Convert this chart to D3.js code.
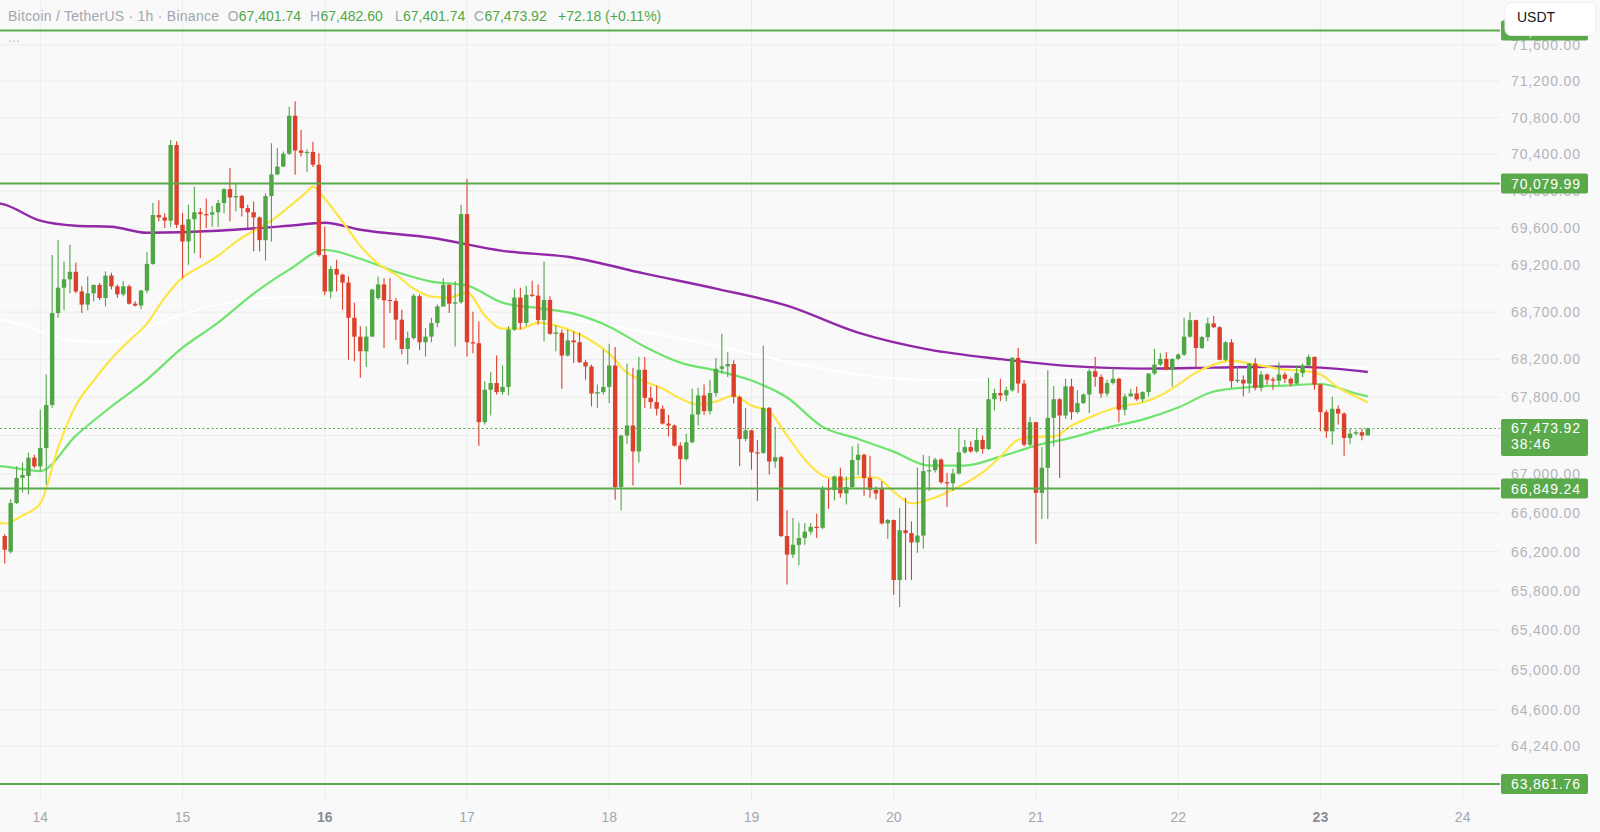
<!DOCTYPE html>
<html><head><meta charset="utf-8">
<script src="https://cdn.jsdelivr.net/npm/d3@7"></script>
<style>html,body{margin:0;padding:0;background:#f9f9f9;}svg{display:block;font-family:"Liberation Sans",Arial,sans-serif;}</style>
</head><body>
<svg id="chart" width="1600" height="832"></svg>
<script>
// ---------- DATA (1h candles, first bar = 13th 18:00) ----------
const opens = [
66360,66200,66700,66960,66980,67170,67080,67270,67720,68690,
68960,69050,69130,68920,68780,68900,68990,68850,69090,68975,
68890,68975,68790,68770,68930,69215,69740,69715,69680,70500,
69635,69455,69695,69770,69750,69745,69770,69870,70020,69930,
69945,69815,69770,69715,69470,69945,70180,70265,70405,70820,
70440,70415,70425,70285,69310,68920,69160,69100,69015,68640,
68440,68285,68440,68850,68995,68830,68820,68620,68310,68425,
68870,68380,68440,68585,68760,68990,68790,68805,69750,68380,
68370,67540,67880,67950,67855,67910,68515,68855,68585,68885,
68875,68615,68830,68470,68480,68240,68400,68380,68170,68125,
67840,67855,67910,68135,66865,67400,67505,67235,68090,67795,
67750,67680,67525,67505,67295,67155,67330,67620,67820,67655,
67845,68100,68125,68150,67805,67365,67455,67225,67220,67690,
67130,67175,66360,66170,66270,66340,66405,66455,66445,66855,
66835,66975,66800,66865,67145,67200,66960,66835,66845,66490,
66525,65910,66420,66390,66295,66365,67030,67040,67150,66915,
66905,67005,67225,67280,67235,67355,67260,67780,67845,67820,
67875,68215,67945,67305,67540,66805,67065,67585,67780,67610,
67915,67645,67740,67830,68075,68015,67840,67950,67995,67670,
67810,67840,67780,67855,68050,68145,68205,68090,68205,68250,
68440,68615,68320,68435,68580,68540,68195,68380,67970,67985,
67945,68155,67900,68040,67990,67975,68040,67995,67945,68055,
68135,68225,67935,67645,67445,67680,67630,67375,67420,67435,
67401.74];
const highs = [
66380,66740,67080,67120,67220,67200,67670,68040,69310,69470,
69240,69420,69230,68975,69080,68995,69010,69135,69120,68995,
69030,68995,68815,68935,69340,69870,69900,69760,70555,70540,
69760,69850,70045,69815,69920,69840,69905,70030,70250,70085,
69960,69850,69885,69725,69975,70520,70465,70430,70920,70980,
70665,70450,70535,70410,69615,69190,69260,69110,69080,68800,
68550,68550,68950,69080,69060,69060,68850,68725,68495,68895,
68890,68530,68640,68780,69060,69000,69030,69850,70130,68705,
68600,67970,68065,68240,68135,68550,68945,68960,68980,69035,
68995,69240,68870,68560,68515,68515,68495,68485,68195,68145,
67935,68300,68365,68330,67410,68155,68110,68225,68225,67915,
67925,67715,67615,67515,67330,67420,67890,67900,67935,67985,
68215,68470,68275,68190,67820,67690,67460,67355,68345,67700,
67490,67190,66625,66545,66500,66495,66495,66590,66875,66950,
66985,67065,66975,67290,67315,67210,67190,66870,66925,66535,
66530,66650,66755,66510,67065,67200,67190,67170,67165,67010,
67055,67480,67355,67340,67480,67400,68005,67890,67995,67910,
68225,68320,67985,67595,67545,67280,68085,67920,67790,67995,
67995,67875,67840,68100,68225,68040,67985,68110,68005,67840,
67890,67915,67865,68055,68310,68265,68275,68210,68265,68640,
68700,68620,68450,68640,68660,68550,68390,68415,68120,68030,
68160,68215,68075,68050,68015,68170,68065,68010,68135,68155,
68250,68230,67940,67670,67805,67715,67645,67470,67455,67470,
67482.60];
const lows = [
66080,66180,66690,66810,66790,67060,67030,66890,67690,68640,
68720,68900,68900,68690,68720,68815,68830,68760,68940,68850,
68870,68780,68760,68730,68900,69205,69670,69600,69615,69600,
69060,69205,69330,69275,69600,69615,69615,69760,69670,69780,
69725,69600,69350,69350,69250,69455,70170,70260,70390,70175,
70375,70210,70260,69295,68880,68845,68920,68725,68195,68180,
68005,68120,68440,68830,68320,68690,68405,68250,68145,68410,
68295,68230,68380,68540,68760,68690,68335,68790,68230,68265,
67295,67515,67610,67830,67830,67820,68500,68515,68550,68860,
68565,68390,68460,68285,67890,68230,68160,68160,67985,67705,
67690,67830,67740,66735,66625,67315,66880,67120,67690,67680,
67610,67515,67390,67285,66890,67140,67320,67505,67615,67620,
67805,68050,68015,67735,67080,67340,67045,66720,67210,66995,
67065,66350,65865,66135,66060,66270,66375,66340,66430,66640,
66730,66755,66685,66850,66985,66775,66755,66740,66480,66330,
65760,65635,65910,65910,66190,66230,66825,67015,66900,66660,
66825,66995,67210,67220,67220,67210,67250,67665,67760,67760,
67860,67845,67285,67290,66280,66535,66535,67290,66960,67575,
67565,67630,67730,67635,67910,67795,67810,67935,67540,67610,
67805,67765,67750,67810,68035,68130,68085,67915,68190,68235,
68425,68100,68310,68390,68530,68190,68180,67900,67950,67810,
67845,67875,67865,67935,67880,67930,67950,67915,67935,68010,
68120,67880,67445,67375,67305,67515,67190,67315,67400,67350,
67401.74];
const closes = [
66220,66700,66960,66990,67170,67080,67270,67720,68690,68960,
69050,69130,68920,68780,68900,68990,68850,69090,68975,68890,
68975,68790,68770,68930,69215,69740,69715,69680,70500,69635,
69455,69695,69770,69750,69745,69770,69870,70020,69930,69945,
69815,69770,69715,69470,69945,70180,70265,70405,70820,70440,
70415,70425,70285,69310,68920,69160,69100,69015,68640,68440,
68285,68440,68940,68995,68825,68820,68620,68310,68425,68875,
68380,68440,68585,68760,68990,68790,68805,69750,68380,68370,
67540,67880,67950,67855,67910,68515,68855,68585,68885,68875,
68615,68830,68470,68485,68240,68400,68380,68170,68125,67840,
67855,67910,68135,66865,67400,67505,67235,68090,67795,67750,
67680,67525,67505,67295,67155,67330,67620,67820,67655,67845,
68100,68125,68150,67805,67365,67455,67225,67220,67690,67130,
67175,66360,66170,66270,66340,66405,66455,66445,66855,66835,
66975,66800,66865,67145,67200,66960,66835,66800,66490,66525,
65910,66420,66390,66295,66365,67030,67040,67150,66915,66905,
67005,67225,67280,67235,67355,67260,67780,67845,67820,67875,
68215,67945,67305,67540,66805,67065,67585,67780,67610,67915,
67645,67740,67830,68075,68015,67840,67950,67995,67670,67810,
67840,67780,67855,68050,68145,68205,68090,68205,68250,68440,
68615,68320,68435,68580,68540,68195,68380,67970,67985,67945,
68155,67900,68040,67985,67975,68040,67995,67945,68055,68135,
68225,67935,67645,67445,67680,67630,67375,67420,67435,67400,
67473.92];

// moving averages (bar number, value); bar 0 = left edge
const yellowBars = [0,1,4,7,10,13,16,19,22,25,28,31,34,37,40,43,46,49,52,53,55,58,61,64,67,70,73,76,79,82,85,88,91,94,97,100,103,106,109,112,115,118,121,124,127,130,133,136,139,142,145,148,151,154,157,160,163,166,169,172,175,178,181,184,187,190,193,196,199,202,205,208,211,214,217,220,223,226,229,231];
const yellowMA = [66500,66489,66572,66696,67274,67714,67976,68207,68397,68578,68855,69068,69185,69302,69451,69570,69679,69830,69992,70047,69917,69668,69408,69217,69099,68950,68865,68855,68908,68663,68524,68524,68588,68556,68492,68397,68260,68060,67966,67892,67788,67725,67756,67819,67714,67651,67399,67150,66985,66943,66964,66964,66819,66696,66737,66809,66902,67016,67181,67357,67389,67389,67504,67588,67662,67714,67746,67819,67934,68060,68144,68186,68155,68123,68092,68081,68039,67903,67808,67746];
const greenBars = [0,1,7,13,19,25,31,37,43,49,55,61,67,73,79,85,91,97,103,109,115,121,127,133,139,145,151,157,163,169,175,181,187,193,199,205,211,217,223,229,231];
const greenMA = [67083,67077,67030,67399,67704,67987,68323,68588,68897,69153,69366,69270,69131,69025,68982,68801,68743,68684,68546,68333,68165,68081,67976,67798,67491,67365,67233,67088,67088,67181,67295,67378,67483,67567,67693,67861,67908,67924,67940,67840,67809];
const purpleBars = [0,1,7,13,19,25,37,49,55,61,73,85,97,109,121,133,145,157,169,181,193,205,217,229,231];
const purpleMA = [69868,69852,69679,69625,69614,69549,69570,69625,69657,69581,69495,69355,69281,69110,68950,68769,68482,68302,68202,68128,68102,68113,68123,68081,68066];
const whiteBars = [0,1,13,19,25,37,49,61,73,85,97,109,121,133,145,157,169,181,193,205,217,229,231];
const whiteMA = [68620,68610,68397,68386,68540,68780,68860,68833,68823,68748,68620,68492,68344,68176,68039,67982,67987,68013,68039,68081,68097,68113,68113];

// horizontal levels and price-axis ticks
const levels = [71760, 70079.99, 66849.24, 63861.76];
const priceTicks = [71600,71200,70800,70400,70000,69600,69200,68700,68200,67800,67400,67000,66600,66200,65800,65400,65000,64600,64240];
const hiddenTickLabels = [67400]; // covered by the last-price box
const dayTicks = [14,15,16,17,18,19,20,21,22,23,24];
const boldDays = [16,23];
const countdown = "38:46";
const title = "Bitcoin / TetherUS \u00b7 1h \u00b7 Binance";
const currency = "USDT";

// ---------- SCALES ----------
const T0 = Date.UTC(2024, 9, 13, 18);
const HOUR = 3600e3;
const barTime = k => new Date(T0 + (k - 1) * HOUR);
const PW = 1500, PH = 800;
const x = d3.scaleUtc().domain([new Date(Date.UTC(2024,9,14)), new Date(Date.UTC(2024,9,23))]).range([40.3, 1320.4]);
const y = d3.scaleLog().domain([63704, 72100]).range([PH, 0]);

const UP = "#50a545", DOWN = "#dc402c", LVL = "#5aa94b";
const fmt = d3.format(",.2f");

const svg = d3.select("#chart");
svg.append("rect").attr("width",1600).attr("height",832).attr("fill","#f9f9f9");
svg.append("defs").append("clipPath").attr("id","plot").append("rect").attr("width",PW).attr("height",PH);

// grid
const grid = svg.append("g");
grid.selectAll("line.h").data(priceTicks).join("line")
  .attr("x1",0).attr("x2",PW).attr("y1",d=>y(d)).attr("y2",d=>y(d))
  .attr("stroke","#ececec").attr("stroke-width",1);
grid.selectAll("line.v").data(dayTicks).join("line")
  .attr("x1",d=>x(new Date(Date.UTC(2024,9,d)))).attr("x2",d=>x(new Date(Date.UTC(2024,9,d))))
  .attr("y1",0).attr("y2",PH).attr("stroke","#ececec").attr("stroke-width",1);

const plot = svg.append("g").attr("clip-path","url(#plot)");

// MA lines
const maLine = d3.line().x(d=>x(barTime(d[0]))).y(d=>y(d[1])).curve(d3.curveMonotoneX);
const mas = [
  [whiteBars, whiteMA, "#ffffff", 2],
  [purpleBars, purpleMA, "#9128a8", 2.4],
  [greenBars, greenMA, "#6ee46f", 2.2],
  [yellowBars, yellowMA, "#fde545", 2.2]
];
mas.forEach(([b, v, col, w]) => {
  plot.append("path").datum(b.map((k,i)=>[k, v[i]]))
    .attr("d", maLine).attr("fill","none").attr("stroke",col).attr("stroke-width",w)
    .attr("stroke-linejoin","round");
});

// candles
const bars = opens.map((o,i)=>({t: barTime(i+1), o, h: highs[i], l: lows[i], c: closes[i]}));
const cg = plot.append("g");
const bw = 4.4;
cg.selectAll("line").data(bars).join("line")
  .attr("x1",d=>x(d.t)).attr("x2",d=>x(d.t))
  .attr("y1",d=>y(d.h)).attr("y2",d=>y(d.l))
  .attr("stroke",d=>d.c>=d.o?UP:DOWN).attr("stroke-width",1.1);
cg.selectAll("rect").data(bars).join("rect")
  .attr("x",d=>x(d.t)-bw/2).attr("width",bw)
  .attr("y",d=>y(Math.max(d.o,d.c)))
  .attr("height",d=>Math.max(1.2, Math.abs(y(d.o)-y(d.c))))
  .attr("fill",d=>d.c>=d.o?UP:DOWN);

// level lines
svg.append("g").selectAll("line").data(levels).join("line")
  .attr("x1",0).attr("x2",PW).attr("y1",d=>y(d)).attr("y2",d=>y(d))
  .attr("stroke",LVL).attr("stroke-width",2);

// current price dotted line
const last = bars[bars.length-1];
svg.append("line").attr("x1",0).attr("x2",PW).attr("y1",y(last.c)).attr("y2",y(last.c))
  .attr("stroke",LVL).attr("stroke-width",1.2).attr("stroke-dasharray","2,2.5");

// price axis labels
svg.append("g").selectAll("text").data(priceTicks.filter(v=>!hiddenTickLabels.includes(v))).join("text")
  .attr("x",1511).attr("y",d=>y(d)+5)
  .attr("font-size",14).attr("fill","#b2b4bd")
  .attr("textLength",69).attr("lengthAdjust","spacing")
  .text(d=>fmt(d));

// level boxes
const lb = svg.append("g");
levels.forEach(v => {
  const yy = y(v);
  lb.append("rect").attr("x",1501).attr("y",yy-10).attr("width",87).attr("height",20).attr("rx",2).attr("fill",LVL);
  lb.append("text").attr("x",1511).attr("y",yy+5).attr("font-size",14).attr("fill","#ffffff")
    .attr("textLength",69).attr("lengthAdjust","spacing").text(fmt(v));
});
// current price box
const yc = y(last.c);
lb.append("rect").attr("x",1501).attr("y",yc-9.5).attr("width",87).attr("height",37).attr("rx",2).attr("fill",LVL);
lb.append("text").attr("x",1511).attr("y",yc+5).attr("font-size",14).attr("fill","#ffffff")
  .attr("textLength",69).attr("lengthAdjust","spacing").text(fmt(last.c));
lb.append("text").attr("x",1511).attr("y",yc+20.5).attr("font-size",14).attr("fill","#ffffff")
  .attr("textLength",39).attr("lengthAdjust","spacing").text(countdown);

// currency box
svg.append("rect").attr("x",1505).attr("y",2.5).attr("width",91).attr("height",33).attr("rx",6)
  .attr("fill","#ffffff").attr("stroke","#ededed");
svg.append("text").attr("x",1517).attr("y",22).attr("font-size",14).attr("font-weight",500)
  .attr("fill","#131722").text(currency);

// time axis
svg.append("g").selectAll("text").data(dayTicks).join("text")
  .attr("x",d=>x(new Date(Date.UTC(2024,9,d)))).attr("y",822)
  .attr("text-anchor","middle").attr("font-size",14)
  .attr("font-weight",d=>boldDays.includes(d)?700:400)
  .attr("fill",d=>boldDays.includes(d)?"#8a8d96":"#a3a6ae")
  .text(d=>d);

// header legend
const chg = last.c - last.o;
const GR = "#4fa845", GY = "#a3a6ae";
const hdr = [
  [8, title, GY, 211],
  [227.7, "O", GY], [238.8, fmt(last.o), GR],
  [310, "H", GY], [320.5, fmt(last.h), GR],
  [395, "L", GY], [403, fmt(last.l), GR],
  [474, "C", GY], [484.4, fmt(last.c), GR],
  [558, (chg>=0?"+":"") + fmt(chg) + " (" + (chg>=0?"+":"") + d3.format(".2f")(chg/last.o*100) + "%)", GR]
];
svg.append("g").selectAll("text").data(hdr).join("text")
  .attr("x",d=>d[0]).attr("y",21).attr("font-size",14).attr("fill",d=>d[2])
  .each(function(d){ if (d[3]) d3.select(this).attr("textLength",d[3]).attr("lengthAdjust","spacing"); })
  .text(d=>d[1]);
svg.append("text").attr("x",8).attr("y",42).attr("font-size",12).attr("fill","#b8bac2").text("\u2026");
</script>
</body></html>
